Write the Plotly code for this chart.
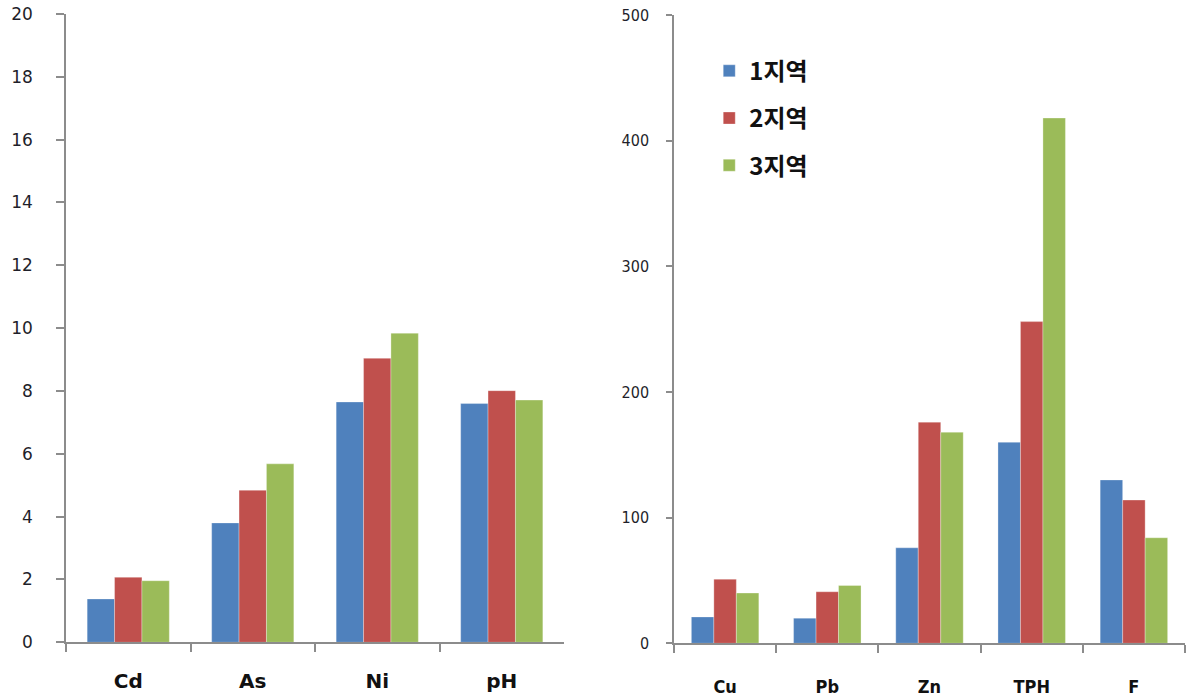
import plotly.graph_objects as go

# Region names and colours
regions = ["1지역", "2지역", "3지역"]
colors = ["#4F81BD", "#C0504D", "#9BBB59"]

# Left panel: Cd, As, Ni, pH
left_categories = ["Cd", "As", "Ni", "pH"]
left_region1 = [1.38, 3.80, 7.65, 7.60]
left_region2 = [2.07, 4.84, 9.04, 8.01]
left_region3 = [1.96, 5.68, 9.84, 7.71]
left_ticks = [0, 2, 4, 6, 8, 10, 12, 14, 16, 18, 20]

# Right panel: Cu, Pb, Zn, TPH, F
right_categories = ["Cu", "Pb", "Zn", "TPH", "F"]
right_region1 = [21, 20, 76, 160, 130]
right_region2 = [51, 41, 176, 256, 114]
right_region3 = [40, 46, 168, 418, 84]
right_ticks = [0, 100, 200, 300, 400, 500]

left_series = [left_region1, left_region2, left_region3]
right_series = [right_region1, right_region2, right_region3]

fig = go.Figure()

for i, name in enumerate(regions):
    fig.add_trace(go.Bar(
        x=left_categories, y=left_series[i], name=name,
        marker=dict(color=colors[i], line=dict(color="rgba(255,255,255,0.5)", width=0.6)),
        xaxis="x", yaxis="y", showlegend=False, legendgroup=name,
    ))
for i, name in enumerate(regions):
    fig.add_trace(go.Bar(
        x=right_categories, y=right_series[i], name=name,
        marker=dict(color=colors[i], line=dict(color="rgba(255,255,255,0.5)", width=0.6)),
        xaxis="x2", yaxis="y2", showlegend=True, legendgroup=name,
    ))

axis_gray = "#8c8c8c"
label_color = "#1f1f2a"

fig.update_layout(
    width=1190, height=696,
    margin=dict(l=0, r=0, t=0, b=0),
    paper_bgcolor="white", plot_bgcolor="white",
    barmode="group", bargap=0.34, bargroupgap=0,
    showlegend=True,
    legend=dict(
        x=0.596, y=0.93, xanchor="left", yanchor="top",
        bgcolor="rgba(0,0,0,0)",
        font=dict(family="Noto Sans CJK KR", size=24, color="#111", weight="bold"),
        traceorder="grouped", tracegroupgap=13,
        itemwidth=30,
    ),
    xaxis=dict(
        domain=[66 / 1190, 564 / 1190], anchor="y",
        type="category", tickson="boundaries",
        ticks="outside", ticklen=8, tickwidth=1.5, tickcolor=axis_gray,
        showline=True, linecolor=axis_gray, linewidth=1.5,
        showgrid=False, zeroline=False, automargin=False,
        tickfont=dict(family="DejaVu Sans", size=20, color="#111", weight="bold"),
        ticklabelstandoff=20,
    ),
    yaxis=dict(
        domain=[1 - 642.3 / 696, 1 - 14 / 696], anchor="x",
        range=[0, 20], tickvals=left_ticks,
        ticks="outside", ticklen=8, tickwidth=1.5, tickcolor=axis_gray,
        showline=True, linecolor=axis_gray, linewidth=1.5,
        showgrid=False, zeroline=False, automargin=False,
        tickfont=dict(family="DejaVu Sans", size=17, color=label_color),
        ticklabelstandoff=20,
    ),
    xaxis2=dict(
        domain=[674 / 1190, 1185 / 1190], anchor="y2",
        type="category", tickson="boundaries",
        ticks="outside", ticklen=8, tickwidth=1.5, tickcolor=axis_gray,
        showline=True, linecolor=axis_gray, linewidth=1.5,
        showgrid=False, zeroline=False, automargin=False,
        tickfont=dict(family="DejaVu Sans Condensed", size=18, color="#111", weight="bold"),
        ticklabelstandoff=26,
    ),
    yaxis2=dict(
        domain=[1 - 643.3 / 696, 1 - 15 / 696], anchor="x2",
        range=[0, 500], tickvals=right_ticks,
        ticks="outside", ticklen=6, tickwidth=1.5, tickcolor=axis_gray,
        showline=True, linecolor=axis_gray, linewidth=1.5,
        showgrid=False, zeroline=False, automargin=False,
        tickfont=dict(family="DejaVu Sans Condensed", size=16, color=label_color),
        ticklabelstandoff=14,
    ),
)

fig.write_html("out.html")
